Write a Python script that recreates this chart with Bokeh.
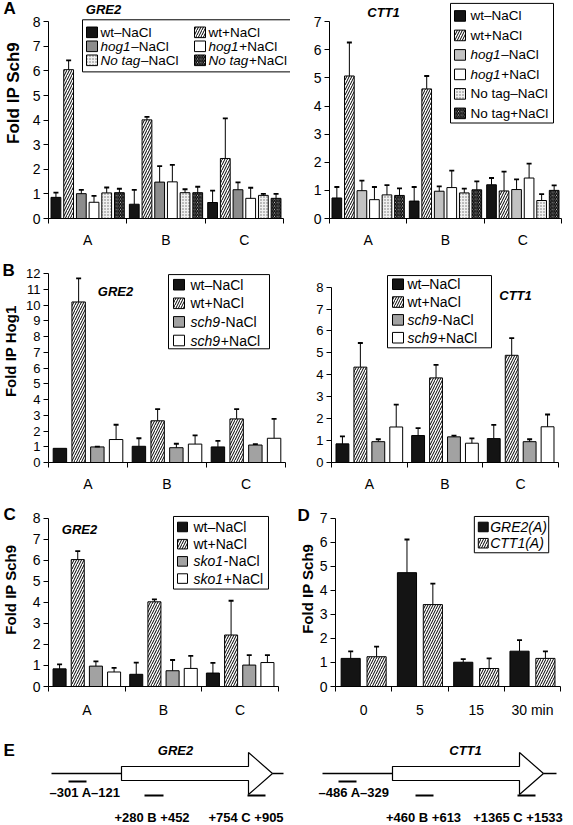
import math
from bokeh.plotting import figure
from bokeh.models import (Range1d, FixedTicker, ColumnDataSource, Whisker, TeeHead,
                          Label, BoxAnnotation)
from bokeh.layouts import row, column
from bokeh.embed import file_html
from bokeh.resources import INLINE

FONT = "Liberation Sans"

# ---------------------------------------------------------------- data
sites = ["A", "B", "C"]

# Panel A left: GRE2, fold IP Sch9
aL_wt_minus = [0.86, 0.58, 0.65]
aL_wt_minus_err = [0.19, 0.58, 0.48]
aL_wt_plus = [6.05, 4.01, 2.44]
aL_wt_plus_err = [0.38, 0.12, 1.63]
aL_hog1_minus = [1.01, 1.48, 1.17]
aL_hog1_minus_err = [0.15, 0.65, 0.30]
aL_hog1_plus = [0.66, 1.49, 0.82]
aL_hog1_plus_err = [0.26, 0.69, 0.43]
aL_notag_minus = [1.04, 1.05, 0.94]
aL_notag_minus_err = [0.22, 0.14, 0.06]
aL_notag_plus = [1.05, 1.05, 0.82]
aL_notag_plus_err = [0.16, 0.24, 0.18]

# Panel A right: CTT1, fold IP Sch9
aR_wt_minus = [0.73, 0.62, 1.20]
aR_wt_minus_err = [0.39, 0.50, 0.24]
aR_wt_plus = [5.07, 4.61, 0.98]
aR_wt_plus_err = [1.19, 0.46, 0.69]
aR_hog1_minus = [0.99, 0.97, 1.03]
aR_hog1_minus_err = [0.36, 0.17, 0.36]
aR_hog1_plus = [0.67, 1.10, 1.44]
aR_hog1_plus_err = [0.45, 0.60, 0.51]
aR_notag_minus = [0.84, 0.91, 0.64]
aR_notag_minus_err = [0.35, 0.15, 0.23]
aR_notag_plus = [0.82, 1.02, 1.00]
aR_notag_plus_err = [0.25, 0.30, 0.18]

# Panel B left: GRE2, fold IP Hog1
bL_wt_minus = [0.90, 1.03, 0.99]
bL_wt_minus_err = [0.0, 0.51, 0.39]
bL_wt_plus = [10.2, 2.65, 2.77]
bL_wt_plus_err = [1.50, 0.74, 0.62]
bL_sch9_minus = [0.99, 0.94, 1.11]
bL_sch9_minus_err = [0.02, 0.25, 0.06]
bL_sch9_plus = [1.46, 1.17, 1.54]
bL_sch9_plus_err = [0.94, 0.55, 1.23]

# Panel B right: CTT1, fold IP Hog1
bR_wt_minus = [0.85, 1.23, 1.09]
bR_wt_minus_err = [0.34, 0.34, 0.63]
bR_wt_plus = [4.35, 3.86, 4.89]
bR_wt_plus_err = [1.10, 0.59, 0.78]
bR_sch9_minus = [0.95, 1.17, 0.95]
bR_sch9_minus_err = [0.11, 0.06, 0.11]
bR_sch9_plus = [1.62, 0.88, 1.63]
bR_sch9_plus_err = [1.02, 0.22, 0.56]

# Panel C: GRE2, fold IP Sch9 (sko1)
c_wt_minus = [0.84, 0.58, 0.64]
c_wt_minus_err = [0.21, 0.56, 0.48]
c_wt_plus = [6.04, 4.03, 2.45]
c_wt_plus_err = [0.40, 0.12, 1.63]
c_sko1_minus = [0.97, 0.75, 1.02]
c_sko1_minus_err = [0.23, 0.51, 0.47]
c_sko1_plus = [0.69, 0.86, 1.14]
c_sko1_plus_err = [0.20, 0.60, 0.35]

# Panel D: time course, fold IP Sch9
times = ["0", "5", "15", "30 min"]
d_gre2 = [1.17, 4.74, 1.01, 1.47]
d_gre2_err = [0.29, 1.38, 0.13, 0.46]
d_ctt1 = [1.24, 3.41, 0.75, 1.17]
d_ctt1_err = [0.42, 0.87, 0.42, 0.29]

# Panel E: amplicons
e_genes = ["GRE2", "CTT1"]
region_names = ["A", "B", "C"]
gre2_regions = [(-301, -121), (280, 452), (754, 905)]
ctt1_regions = [(-486, -329), (460, 613), (1365, 1533)]

# ---------------------------------------------------------------- styles
STY = {
    "black": dict(fill_color="#141414"),
    "hatch": dict(fill_color="white", hatch_pattern="/", hatch_color="black",
                  hatch_scale=5.0, hatch_weight=1.0),
    "greyA": dict(fill_color="#8c8c8c"),
    "greyL": dict(fill_color="#c2c2c2"),
    "grey": dict(fill_color="#a2a2a2"),
    "white": dict(fill_color="white"),
    "dots": dict(fill_color="#f0f0f0", hatch_pattern=".", hatch_color="#6a6a6a",
                 hatch_scale=3.0, hatch_weight=1.0),
    "back": dict(fill_color="white", hatch_pattern="\\", hatch_color="black",
                 hatch_scale=3.5, hatch_weight=1.3),
}

WID = {' ': 278, '+': 584, '\u2013': 556, '-': 333, '(': 333, ')': 333,
       'A': 667, 'B': 667, 'C': 722, 'D': 722, 'E': 667, 'G': 778, 'N': 722,
       'R': 722, 'T': 611, 'a': 556, 'c': 500, 'g': 556, 'h': 556, 'k': 500,
       'l': 222, 'o': 556, 's': 500, 't': 278, 'w': 722}


def tw(s, size):
    return sum(WID.get(ch, 556) for ch in s) * size / 1000.0


# px offsets (right / down) from a data anchor -> data coordinates
def X(g, px):
    return g["dx0"] + px / g["ppx"]


def Y(g, py):
    return g["dy0"] - py / g["ppy"]


def clean(p):
    p.outline_line_color = None
    p.xgrid.visible = False
    p.ygrid.visible = False
    p.background_fill_color = "white"
    p.border_fill_color = "white"


def mkfig(width, height, bl, bb, n, ymax, fw_data, fh_data):
    """Frame reaches the top and right canvas edges; the data box (0..n, 0..ymax)
    occupies fw_data x fh_data pixels at its bottom-left corner."""
    frame_w = width - bl
    frame_h = height - bb
    ppx = fw_data / n
    ppy = fh_data / ymax
    p = figure(width=width, height=height,
               x_range=Range1d(0, frame_w / ppx), y_range=Range1d(0, frame_h / ppy),
               output_backend="svg", toolbar_location=None, title=None,
               min_border_left=bl, min_border_right=0, min_border_top=0,
               min_border_bottom=bb)
    clean(p)
    return p, dict(dx0=0, dy0=ymax, ppx=ppx, ppy=ppy)


def mkstrip(width, height):
    p = figure(width=width, height=height, x_range=Range1d(0, width),
               y_range=Range1d(height, 0), output_backend="svg", toolbar_location=None,
               title=None, min_border=0)
    clean(p)
    p.axis.visible = False
    return p, dict(dx0=0, dy0=0, ppx=1, ppy=-1)


def style_axes(p, cats, ymax, tfs, cfs, standoff):
    n = len(cats)
    xa = p.xaxis[0]
    xa.ticker = FixedTicker(ticks=[i + 0.5 for i in range(n)], minor_ticks=list(range(n + 1)))
    xa.major_label_overrides = {i + 0.5: c for i, c in enumerate(cats)}
    xa.bounds = (0, n)
    xa.major_tick_line_color = None
    xa.major_tick_out = 0
    xa.major_tick_in = 0
    xa.minor_tick_out = 5
    xa.minor_tick_in = 0
    xa.minor_tick_line_color = "black"
    xa.major_label_standoff = standoff
    xa.major_label_text_font_size = f"{cfs}px"
    ya = p.yaxis[0]
    ya.ticker = FixedTicker(ticks=list(range(0, ymax + 1)))
    ya.bounds = (0, ymax)
    ya.major_tick_out = 5
    ya.major_tick_in = 0
    ya.major_tick_line_color = "black"
    ya.minor_tick_line_color = None
    ya.major_label_standoff = 3
    ya.major_label_text_font_size = f"{tfs}px"
    for ax in (xa, ya):
        ax.axis_line_color = "black"
        ax.axis_line_width = 1
        ax.major_label_text_font = FONT
        ax.major_label_text_color = "black"


def draw_bars(p, cats, series, offsets, width):
    for k, (vals, errs, sty) in enumerate(series):
        xs = [i + 0.5 + offsets[k] for i in range(len(cats))]
        p.vbar(x=xs, top=vals, bottom=0, width=width, line_color="black",
               line_width=1, **STY[sty])
        keep = [(x, v, v + e) for x, v, e in zip(xs, vals, errs) if e > 0]
        if keep:
            src = ColumnDataSource(dict(x=[a for a, _, _ in keep],
                                        lo=[b for _, b, _ in keep],
                                        hi=[c for _, _, c in keep]))
            p.add_layout(Whisker(source=src, base="x", lower="lo", upper="hi",
                                 dimension="height", line_color="black", line_width=1,
                                 upper_head=TeeHead(size=5, line_width=1.8,
                                                    line_color="black"),
                                 lower_head=None, level="glyph"))


def lab(p, g, px, py, text, size, style="normal", align="left", angle=0.0):
    p.add_layout(Label(x=X(g, px), y=Y(g, py), text=text, text_font=FONT,
                       text_font_size=f"{size}px", text_font_style=style,
                       text_align=align, text_baseline="middle", angle=angle,
                       text_color="black", level="overlay"))


def legend(p, g, box, items, size, sw=11):
    l, t, r, b = box
    p.add_layout(BoxAnnotation(left=X(g, l), right=X(g, r), top=Y(g, t), bottom=Y(g, b),
                               fill_color="white", fill_alpha=1, line_color="black",
                               line_alpha=1, line_width=1, level="overlay"))
    for sx, cy, tx, sty, parts in items:
        p.add_layout(BoxAnnotation(left=X(g, sx), right=X(g, sx + sw),
                                   top=Y(g, cy - sw / 2), bottom=Y(g, cy + sw / 2),
                                   fill_alpha=1, line_color="black", line_alpha=1,
                                   line_width=1, level="overlay", **STY[sty]))
        x = tx
        for txt, st in parts:
            lab(p, g, x, cy, txt, size, st)
            x += tw(txt, size) + (0.8 if st == "italic" else 0)


I, N = "italic", "normal"
OFF6 = [(k - 2.5) * 0.162 for k in range(6)]
OFF4 = [(k - 1.5) * 0.237 for k in range(4)]
OFF2 = [-0.23, 0.23]

# ================================================================ row A
sA, gsA = mkstrip(22, 250)
lab(sA, gsA, 3, 9, "A", 17, "bold")
lab(sA, gsA, 13, 106, "Fold IP Sch9", 17, "bold", "center", math.pi / 2)

pAL, gAL = mkfig(268, 250, 26, 24, 3, 8, 235, 204)
style_axes(pAL, sites, 8, 14, 14, 8)
draw_bars(pAL, sites, [
    (aL_wt_minus, aL_wt_minus_err, "black"),
    (aL_wt_plus, aL_wt_plus_err, "hatch"),
    (aL_hog1_minus, aL_hog1_minus_err, "greyA"),
    (aL_hog1_plus, aL_hog1_plus_err, "white"),
    (aL_notag_minus, aL_notag_minus_err, "dots"),
    (aL_notag_plus, aL_notag_plus_err, "back"),
], OFF6, 0.125)
lab(pAL, gAL, 55, -13, "GRE2", 13, "bold italic", "center")
rows = [11, 25.5, 40]
legend(pAL, gAL, (34, -2, 254, 52), [
    (38, rows[0], 52, "black", [("wt\u2013NaCl", N)]),
    (146, rows[0], 160, "hatch", [("wt+NaCl", N)]),
    (38, rows[1], 52, "greyA", [("hog1", I), ("\u2013NaCl", N)]),
    (146, rows[1], 160, "white", [("hog1", I), ("+NaCl", N)]),
    (38, rows[2], 52, "dots", [("No tag", I), ("\u2013NaCl", N)]),
    (146, rows[2], 160, "back", [("No tag", I), ("+NaCl", N)]),
], 13.5)

pAR, gAR = mkfig(283, 250, 39, 24, 3, 7, 232, 204)
style_axes(pAR, sites, 7, 14, 14, 8)
draw_bars(pAR, sites, [
    (aR_wt_minus, aR_wt_minus_err, "black"),
    (aR_wt_plus, aR_wt_plus_err, "hatch"),
    (aR_hog1_minus, aR_hog1_minus_err, "greyL"),
    (aR_hog1_plus, aR_hog1_plus_err, "white"),
    (aR_notag_minus, aR_notag_minus_err, "dots"),
    (aR_notag_plus, aR_notag_plus_err, "back"),
], OFF6, 0.125)
lab(pAR, gAR, 54, -10, "CTT1", 13, "bold italic", "center")
r6 = [-6 + k * 20.2 for k in range(6)]
legend(pAR, gAR, (121, -19, 224, 105), [
    (125, r6[0], 141, "black", [("wt\u2013NaCl", N)]),
    (125, r6[1], 141, "hatch", [("wt+NaCl", N)]),
    (125, r6[2], 141, "greyL", [("hog1", I), ("\u2013NaCl", N)]),
    (125, r6[3], 141, "white", [("hog1", I), ("+NaCl", N)]),
    (125, r6[4], 141, "dots", [("No tag\u2013NaCl", N)]),
    (125, r6[5], 141, "back", [("No tag+NaCl", N)]),
], 13.5)

# ================================================================ row B
sB, gsB = mkstrip(20, 244)
lab(sB, gsB, 2, 23, "B", 17, "bold")
lab(sB, gsB, 10, 116, "Fold IP Hog1", 15, "bold", "center", math.pi / 2)

pBL, gBL = mkfig(270, 244, 28, 24, 3, 12, 237, 196)
style_axes(pBL, sites, 12, 13, 14, 8)
draw_bars(pBL, sites, [
    (bL_wt_minus, bL_wt_minus_err, "black"),
    (bL_wt_plus, bL_wt_plus_err, "hatch"),
    (bL_sch9_minus, bL_sch9_minus_err, "grey"),
    (bL_sch9_plus, bL_sch9_plus_err, "white"),
], OFF4, 0.17)
lab(pBL, gBL, 67, 19, "GRE2", 13, "bold italic", "center")
r4 = [11.5 + k * 19.3 for k in range(4)]
legend(pBL, gBL, (120, 1, 221, 78), [
    (125, r4[0], 142, "black", [("wt\u2013NaCl", N)]),
    (125, r4[1], 142, "hatch", [("wt+NaCl", N)]),
    (125, r4[2], 142, "grey", [("sch9", I), ("-NaCl", N)]),
    (125, r4[3], 142, "white", [("sch9", I), ("+NaCl", N)]),
], 14)

pBR, gBR = mkfig(283, 244, 41, 24, 3, 8, 227, 182)
style_axes(pBR, sites, 8, 13, 14, 8)
draw_bars(pBR, sites, [
    (bR_wt_minus, bR_wt_minus_err, "black"),
    (bR_wt_plus, bR_wt_plus_err, "hatch"),
    (bR_sch9_minus, bR_sch9_minus_err, "grey"),
    (bR_sch9_plus, bR_sch9_plus_err, "white"),
], OFF4, 0.17)
lab(pBR, gBR, 184, 9, "CTT1", 13, "bold italic", "center")
r4b = [-3 + k * 18.5 for k in range(4)]
legend(pBR, gBR, (56, -12, 160, 63), [
    (61, r4b[0], 76, "black", [("wt\u2013NaCl", N)]),
    (61, r4b[1], 76, "hatch", [("wt+NaCl", N)]),
    (61, r4b[2], 76, "grey", [("sch9", I), ("-NaCl", N)]),
    (61, r4b[3], 76, "white", [("sch9", I), ("+NaCl", N)]),
], 14)

# ================================================================ row C / D
sC, gsC = mkstrip(22, 226)
lab(sC, gsC, 3, 23, "C", 17, "bold")
lab(sC, gsC, 10, 112, "Fold IP Sch9", 15, "bold", "center", math.pi / 2)

pC, gC = mkfig(271, 226, 26, 25, 3, 8, 230, 176)
style_axes(pC, sites, 8, 14, 14, 10)
draw_bars(pC, sites, [
    (c_wt_minus, c_wt_minus_err, "black"),
    (c_wt_plus, c_wt_plus_err, "hatch"),
    (c_sko1_minus, c_sko1_minus_err, "grey"),
    (c_sko1_plus, c_sko1_plus_err, "white"),
], OFF4, 0.17)
lab(pC, gC, 31, 12, "GRE2", 13, "bold italic", "center")
r4c = [9 + k * 18 for k in range(4)]
legend(pC, gC, (125, -2, 220, 74), [
    (129, r4c[0], 145, "black", [("wt\u2013NaCl", N)]),
    (129, r4c[1], 145, "hatch", [("wt+NaCl", N)]),
    (129, r4c[2], 145, "grey", [("sko1", I), ("-NaCl", N)]),
    (129, r4c[3], 145, "white", [("sko1", I), ("+NaCl", N)]),
], 14, sw=10)

sD, gsD = mkstrip(23, 226)
lab(sD, gsD, 4, 25, "D", 17, "bold")
lab(sD, gsD, 14, 111, "Fold IP Sch9", 15, "bold", "center", math.pi / 2)

pD, gD = mkfig(257, 226, 17, 25, 4, 7, 227, 176)
style_axes(pD, times, 7, 14, 14, 10)
draw_bars(pD, times, [
    (d_gre2, d_gre2_err, "black"),
    (d_ctt1, d_ctt1_err, "hatch"),
], OFF2, 0.34)
legend(pD, gD, (140, -2, 215, 36), [
    (144, 9, 156, "black", [("GRE2(A)", I)]),
    (144, 26, 156, "hatch", [("CTT1(A)", I)]),
], 14, sw=10)

# ================================================================ panel E
pE, gE = mkstrip(573, 104)

E_LAYOUT = {
    "GRE2": dict(start=51, box=121, head=248, tip=272, end=283, title_x=175,
                 bars=[(68, 86), (144, 163), (247, 265)], labx=[84.5, 151.5, 245.5]),
    "CTT1": dict(start=322, box=392, head=519, tip=543, end=556, title_x=465,
                 bars=[(338, 356), (415, 433), (517, 535)], labx=[353.5, 423, 517.5]),
}
E_CY, E_BOX, E_HEAD = 53, 7, 21
E_BAR_Y = [61, 75, 75]
E_LAB_Y = [72, 97, 97]


def fmt(v):
    return ("+" if v > 0 else "\u2013") + str(abs(v))


lab(pE, gE, 3, 30, "E", 17, "bold")
for gene, regions in zip(e_genes, [gre2_regions, ctt1_regions]):
    L = E_LAYOUT[gene]
    pE.segment(x0=[L["start"], L["tip"]], y0=[E_CY, E_CY], x1=[L["box"], L["end"]],
               y1=[E_CY, E_CY], line_color="black", line_width=1.5)
    pE.patch(x=[L["box"], L["head"], L["head"], L["tip"], L["head"], L["head"], L["box"]],
             y=[E_CY - E_BOX, E_CY - E_BOX, E_CY - E_HEAD, E_CY, E_CY + E_HEAD,
                E_CY + E_BOX, E_CY + E_BOX],
             fill_color="white", line_color="black", line_width=1.2)
    lab(pE, gE, L["title_x"], 30, gene, 13, "bold italic", "center")
    for k, ((s, e), name) in enumerate(zip(regions, region_names)):
        x0, x1 = L["bars"][k]
        pE.segment(x0=[x0], y0=[E_BAR_Y[k]], x1=[x1], y1=[E_BAR_Y[k]],
                   line_color="black", line_width=2)
        text = f"{fmt(s)} {name}{fmt(e)}" if k == 0 else f"{fmt(s)} {name} {fmt(e)}"
        lab(pE, gE, L["labx"][k], E_LAB_Y[k], text, 13, "bold", "center")

layout = column(row(sA, pAL, pAR), row(sB, pBL, pBR), row(sC, pC, sD, pD), pE)
open("out.html", "w").write(file_html(layout, INLINE))
